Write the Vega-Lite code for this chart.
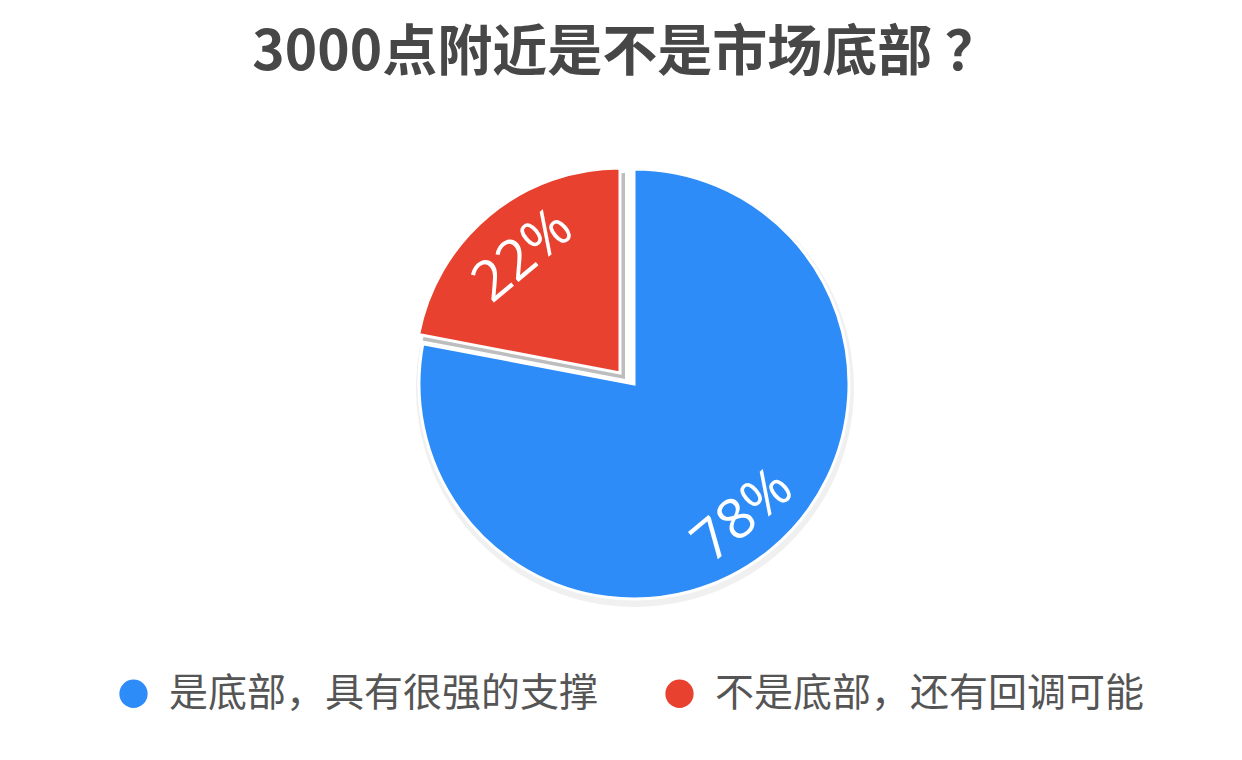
{
  "$schema": "https://vega.github.io/schema/vega-lite/v6.json",
  "autosize": {"type": "none"},
  "padding": {"left": 26, "top": 90, "right": 0, "bottom": 82},
  "width": 1216,
  "height": 588,
  "background": "white",
  "title": {
    "text": "3000点附近是不是市场底部 ？",
    "font": "Noto Sans CJK SC",
    "fontSize": 55,
    "fontWeight": "bold",
    "color": "#474747",
    "anchor": "middle",
    "baseline": "bottom",
    "offset": -47,
    "dx": -8
  },
  "data": {
    "values": [
      {"name": "是底部，具有很强的支撑", "share": 0.78, "idx": 1},
      {"name": "不是底部，还有回调可能", "share": 0.22, "idx": 2}
    ]
  },
  "encoding": {
    "theta": {"field": "share", "type": "quantitative", "stack": true},
    "order": {"field": "idx", "type": "ordinal"}
  },
  "layer": [
    {
      "mark": {"type": "arc", "radius": 219, "fill": "#000", "xOffset": 1, "yOffset": 4},
      "encoding": {
        "opacity": {"condition": {"test": "datum.idx == 1", "value": 0.06}, "value": 0}
      }
    },
    {
      "mark": {"type": "arc", "radius": 206, "fill": "#bdbdbd", "xOffset": -9, "yOffset": -5},
      "encoding": {
        "opacity": {"condition": {"test": "datum.idx == 2", "value": 1}, "value": 0}
      }
    },
    {
      "mark": {"type": "arc", "radius": 215, "stroke": "white", "strokeWidth": 3},
      "encoding": {
        "color": {
          "field": "name",
          "type": "nominal",
          "scale": {
            "domain": ["是底部，具有很强的支撑", "不是底部，还有回调可能"],
            "range": ["#2d8cf7", "#e8412f"]
          },
          "legend": {
            "orient": "none",
            "legendX": 88,
            "legendY": 584,
            "direction": "horizontal",
            "title": null,
            "padding": 0,
            "symbolType": "circle",
            "symbolSize": 800,
            "symbolStrokeWidth": 0,
            "labelFont": "Noto Sans CJK SC",
            "labelFontSize": 39,
            "labelColor": "#555555",
            "labelOffset": 16,
            "labelLimit": 600,
            "columnPadding": 61
          }
        },
        "opacity": {"condition": {"test": "datum.idx == 1", "value": 1}, "value": 0}
      }
    },
    {
      "mark": {"type": "arc", "radius": 205, "stroke": "white", "strokeWidth": 3, "xOffset": -14, "yOffset": -11},
      "encoding": {
        "color": {"field": "name", "type": "nominal"},
        "opacity": {"condition": {"test": "datum.idx == 2", "value": 1}, "value": 0}
      }
    },
    {
      "mark": {"type": "text", "radius": 171, "angle": 320, "font": "Open Sans", "fontWeight": 400, "fontSize": 56, "fill": "white", "align": "center", "baseline": "middle"},
      "encoding": {
        "text": {"condition": {"test": "datum.idx == 1", "field": "share", "format": ".0%"}, "value": ""}
      }
    },
    {
      "mark": {"type": "text", "radius": 152, "angle": 320, "font": "Open Sans", "fontWeight": 400, "fontSize": 56, "fill": "white", "align": "center", "baseline": "middle", "xOffset": -14, "yOffset": -11},
      "encoding": {
        "text": {"condition": {"test": "datum.idx == 2", "field": "share", "format": ".0%"}, "value": ""}
      }
    }
  ],
  "config": {"view": {"stroke": null}}
}
